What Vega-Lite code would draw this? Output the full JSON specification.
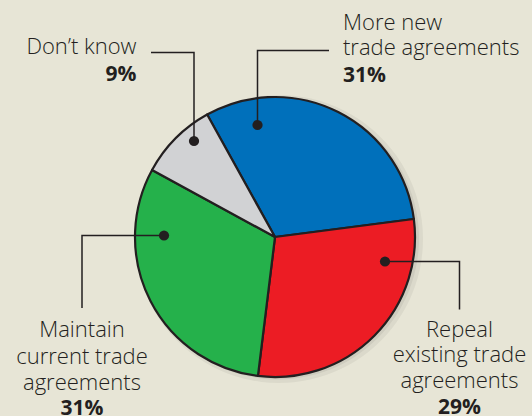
{
  "$schema": "https://vega.github.io/schema/vega-lite/v6.json",
  "width": 532,
  "height": 416,
  "padding": 0,
  "autosize": "none",
  "background": "#e7e5d6",
  "config": {"view": {"stroke": null}},
  "datasets": {
    "slices": [
      {"answer": "More new trade agreements", "share": 31, "rank": 1},
      {"answer": "Repeal existing trade agreements", "share": 29, "rank": 2},
      {"answer": "Maintain current trade agreements", "share": 31, "rank": 3},
      {"answer": "Don’t know", "share": 9, "rank": 4}
    ],
    "leaders": [
      {"callout": "dk", "step": 0, "x": 194, "y": 141},
      {"callout": "dk", "step": 1, "x": 194, "y": 52.5},
      {"callout": "dk", "step": 2, "x": 151, "y": 52.5},
      {"callout": "mn", "step": 0, "x": 257.5, "y": 125},
      {"callout": "mn", "step": 1, "x": 257.5, "y": 50.5},
      {"callout": "mn", "step": 2, "x": 329, "y": 50.5},
      {"callout": "mt", "step": 0, "x": 164, "y": 235.5},
      {"callout": "mt", "step": 1, "x": 82, "y": 235.5},
      {"callout": "mt", "step": 2, "x": 82, "y": 308},
      {"callout": "rp", "step": 0, "x": 385, "y": 261.5},
      {"callout": "rp", "step": 1, "x": 459.5, "y": 261.5},
      {"callout": "rp", "step": 2, "x": 459.5, "y": 309.5}
    ],
    "labels": [
      {"callout": "dk", "kind": "name", "text": "Don’t know", "x": 136.5, "y": 54},
      {"callout": "dk", "kind": "share", "text": "9%", "x": 136.5, "y": 81},
      {"callout": "mn", "kind": "name", "text": "More new", "x": 343, "y": 29.5},
      {"callout": "mn", "kind": "name", "text": "trade agreements", "x": 343, "y": 54.5},
      {"callout": "mn", "kind": "share", "text": "31%", "x": 343, "y": 81.5},
      {"callout": "mt", "kind": "name", "text": "Maintain", "x": 82, "y": 337},
      {"callout": "mt", "kind": "name", "text": "current trade", "x": 82, "y": 363.5},
      {"callout": "mt", "kind": "name", "text": "agreements", "x": 82, "y": 389.5},
      {"callout": "mt", "kind": "share", "text": "31%", "x": 82, "y": 415},
      {"callout": "rp", "kind": "name", "text": "Repeal", "x": 459.5, "y": 336.5},
      {"callout": "rp", "kind": "name", "text": "existing trade", "x": 459.5, "y": 362},
      {"callout": "rp", "kind": "name", "text": "agreements", "x": 459.5, "y": 388},
      {"callout": "rp", "kind": "share", "text": "29%", "x": 459.5, "y": 414}
    ]
  },
  "layer": [
    {
      "data": {"name": "slices"},
      "mark": {"type": "arc", "outerRadius": 144, "fill": "#000000", "opacity": 0.05, "stroke": null},
      "encoding": {
        "theta": {"field": "share", "type": "quantitative", "stack": true, "scale": {"range": [-0.506, 5.777]}},
        "order": {"field": "rank"},
        "x": {"datum": 279, "type": "quantitative", "scale": {"domain": [0, 532], "nice": false, "zero": false}, "axis": null},
        "y": {"datum": 239, "type": "quantitative", "scale": {"domain": [0, 416], "nice": false, "zero": false, "reverse": true}, "axis": null}
      }
    },
    {
      "data": {"name": "slices"},
      "mark": {"type": "arc", "outerRadius": 141, "fill": "#000000", "opacity": 0.06, "stroke": null},
      "encoding": {
        "theta": {"field": "share", "type": "quantitative", "stack": true},
        "order": {"field": "rank"},
        "x": {"datum": 278, "type": "quantitative"},
        "y": {"datum": 238.5, "type": "quantitative"}
      }
    },
    {
      "data": {"name": "slices"},
      "mark": {"type": "arc", "outerRadius": 140, "stroke": "#231f20", "strokeWidth": 2.2, "strokeJoin": "round"},
      "encoding": {
        "theta": {"field": "share", "type": "quantitative", "stack": true},
        "order": {"field": "rank"},
        "color": {
          "field": "answer",
          "type": "nominal",
          "scale": {
            "domain": ["More new trade agreements", "Repeal existing trade agreements", "Maintain current trade agreements", "Don’t know"],
            "range": ["#0070bb", "#ec1c24", "#25b14b", "#d1d2d4"]
          },
          "legend": null
        },
        "x": {"datum": 275, "type": "quantitative"},
        "y": {"datum": 237, "type": "quantitative"}
      }
    },
    {
      "data": {"name": "leaders"},
      "mark": {"type": "line", "color": "#231f20", "strokeWidth": 1.5, "interpolate": "linear"},
      "encoding": {
        "x": {"field": "x", "type": "quantitative"},
        "y": {"field": "y", "type": "quantitative"},
        "detail": {"field": "callout"},
        "order": {"field": "step"}
      }
    },
    {
      "data": {"name": "leaders"},
      "transform": [{"filter": "datum.step == 0"}],
      "mark": {"type": "circle", "color": "#231f20", "size": 105, "opacity": 1},
      "encoding": {
        "x": {"field": "x", "type": "quantitative"},
        "y": {"field": "y", "type": "quantitative"}
      }
    },
    {
      "data": {"name": "labels"},
      "mark": {
        "type": "text",
        "font": "Open Sans",
        "fontSize": {"expr": "datum.kind == 'share' ? 21 : 22"},
        "color": "#231f20",
        "baseline": "alphabetic",
        "align": {"expr": "datum.callout == 'dk' ? 'right' : datum.callout == 'mn' ? 'left' : 'center'"},
        "fontWeight": {"expr": "datum.kind == 'share' ? 'bold' : 300"}
      },
      "encoding": {
        "x": {"field": "x", "type": "quantitative"},
        "y": {"field": "y", "type": "quantitative"},
        "text": {"field": "text"}
      }
    }
  ]
}
